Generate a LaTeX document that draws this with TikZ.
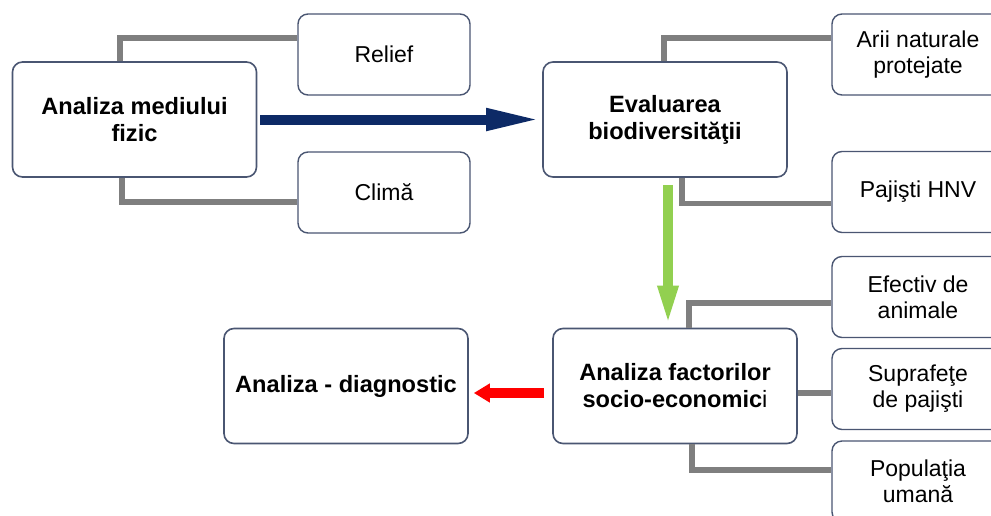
\documentclass[tikz,border=0pt]{standalone}
\usepackage{fontspec}
\setmainfont{Liberation Sans}
\usetikzlibrary{arrows.meta}

\definecolor{boxline}{HTML}{4A5672}
\definecolor{linkgray}{HTML}{7F7F7F}
\definecolor{navy}{HTML}{0D2A66}
\definecolor{leafgreen}{HTML}{92D050}

\tikzset{
  mainbox/.style={draw=boxline,line width=0.8pt,rounded corners=5pt,fill=white,
    minimum width=122pt,minimum height=57.5pt,align=center,
    font=\fontsize{11.8}{13.5}\selectfont\bfseries},
  sidebox/.style={draw=boxline,line width=0.7pt,rounded corners=5pt,fill=white,
    minimum width=86pt,minimum height=40.5pt,align=center,
    font=\fontsize{11.5}{13}\selectfont},
  link/.style={draw=linkgray,line width=2.6pt},
  flowarrow/.style={line width=5pt}
}

\begin{document}
\begin{tikzpicture}[x=0.5pt,y=-0.5pt]
\clip (0,0) rectangle (991,515);
\fill[white] (0,0) rectangle (991,515);
\node[mainbox] (fizic)  at (134.5,119.5) {Analiza mediului\\fizic};
\node[mainbox] (biodiv) at (665,119.5)   {Evaluarea\\biodiversităţii};
\node[mainbox] (socio)  at (675,386)     {Analiza factorilor\\socio-economic{\mdseries i}};
\node[mainbox] (diag)   at (346,386)     {Analiza - diagnostic};
\node[sidebox] (relief)    at (384,54.5)  {Relief};
\node[sidebox] (clima)     at (384,192.5) {Climă};
\node[sidebox] (arii)      at (918,54.5)  {Arii naturale\\protejate};
\node[sidebox] (pajisti)   at (918,192)   {Pajişti HNV};
\node[sidebox] (efectiv)   at (918,297)   {Efectiv de\\animale};
\node[sidebox] (suprafete) at (918,389)   {Suprafeţe\\de pajişti};
\node[sidebox] (populatia) at (918,481.5) {Populaţia\\umană};
\draw[link] ([xshift=-7.25pt]fizic.north) |- ([yshift=8.25pt]relief.west);
\draw[link] ([xshift=-6.25pt]fizic.south) |- ([yshift=-4.75pt]clima.west);
\draw[link] ([xshift=-0.5pt]biodiv.north) |- ([yshift=8.25pt]arii.west);
\draw[link] ([xshift=8.5pt]biodiv.south) |- ([yshift=-5.75pt]pajisti.west);
\draw[link] ([xshift=7pt]socio.north) |- ([yshift=-3pt]efectiv.west);
\draw[link] ([yshift=-3.5pt]socio.east) -- ([yshift=-2pt]suprafete.west);
\draw[link] ([xshift=8.5pt]socio.south) |- ([yshift=5.75pt]populatia.west);
\draw[flowarrow,navy,-{Triangle[length=28pt,width=10pt]},shorten <=1.5pt]%
  (fizic.east) -- (biodiv.west);
\draw[flowarrow,leafgreen,-{Triangle[length=21pt,width=9pt]},shorten <=3.5pt]%
  ([xshift=1.5pt]biodiv.south) -- ([xshift=1.5pt]biodiv.south |- socio.north);
\draw[flowarrow,red,-{Triangle[length=8pt,width=9pt]},shorten <=4pt,shorten >=2.5pt]%
  ([yshift=-3.5pt]socio.west) -- ([yshift=-3.5pt]diag.east);
\end{tikzpicture}
\end{document}
